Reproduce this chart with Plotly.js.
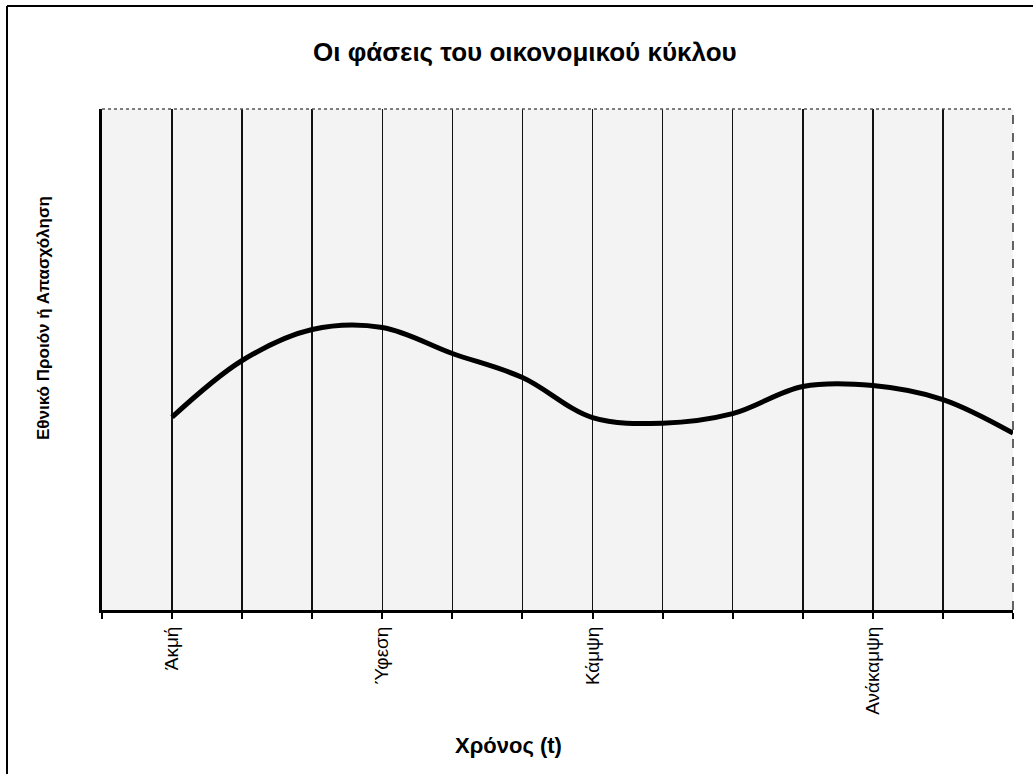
<!DOCTYPE html>
<html>
<head>
<meta charset="utf-8">
<script src="https://cdn.plot.ly/plotly-3.0.1.min.js"></script>
<style>html,body{margin:0;padding:0;background:#fff;}#chart{width:1033px;height:774px;}</style>
</head>
<body>
<div id="chart"></div>
<script>
// Category positions (0..13) and the phase labels shown under some of them
const categories = [0, 1, 2, 3, 4, 5, 6, 7, 8, 9, 10, 11, 12, 13];
const tickLabels = ["", "Άκμή", "", "", "Ύφεση", "", "", "Κάμψη", "", "", "", "Ανάκαμψη", "", ""];
// Line series (arbitrary units)
const seriesX = [1, 2, 3, 4, 5, 6, 7, 8, 9, 10, 11, 12, 13];
const seriesY = [38.5, 49.8, 56.0, 56.4, 51.2, 46.4, 38.4, 37.3, 39.2, 44.6, 44.8, 42.0, 35.3];

const L = 102, R = 1013, T = 109, B = 610, W = 1033, H = 774;
const px = x => (x - L) / (R - L);
const py = y => (B - y) / (B - T);

const trace = {
  x: seriesX, y: seriesY, type: 'scatter', mode: 'lines',
  line: {color: '#000', width: 5, shape: 'spline', smoothing: 1},
  hoverinfo: 'skip'
};

const layout = {
  width: W, height: H,
  margin: {l: L, r: W - R, t: T, b: H - B},
  paper_bgcolor: '#fff',
  plot_bgcolor: '#f3f3f3',
  showlegend: false,
  font: {family: 'Liberation Sans, Arial, sans-serif', color: '#000'},
  xaxis: {
    range: [0, 13], fixedrange: true,
    tickmode: 'array', tickvals: categories, ticktext: tickLabels,
    tickangle: -90, ticks: 'outside', ticklen: 6, tickwidth: 2, tickcolor: '#000',
    tickfont: {size: 19, family: 'Liberation Sans, Arial, sans-serif', color: '#000'},
    showgrid: true, gridcolor: '#111', gridwidth: 1.5,
    showline: true, linecolor: '#000', linewidth: 3,
    zeroline: false
  },
  yaxis: {
    range: [0, 100], fixedrange: true,
    showticklabels: false, ticks: '', showgrid: false,
    showline: true, linecolor: '#000', linewidth: 3,
    zeroline: false
  },
  shapes: [
    {type: 'line', xref: 'paper', yref: 'paper', x0: 0, x1: 1, y0: 1, y1: 1, line: {color: '#555', width: 1.5, dash: 'dot'}},
    {type: 'line', xref: 'paper', yref: 'paper', x0: 1, x1: 1, y0: 0, y1: 1, line: {color: '#333', width: 1.5, dash: 'dash'}},
    {type: 'line', xref: 'paper', yref: 'paper', x0: px(7), x1: px(7), y0: py(6), y1: py(774), line: {color: '#000', width: 2}},
    {type: 'line', xref: 'paper', yref: 'paper', x0: px(7), x1: px(1033), y0: py(6), y1: py(6), line: {color: '#000', width: 2}}
  ],
  annotations: [
    {text: '<b>Οι φάσεις του οικονομικού κύκλου</b>', xref: 'paper', yref: 'paper',
     x: px(525), y: py(52), xanchor: 'center', yanchor: 'middle', showarrow: false,
     font: {size: 26, family: 'Liberation Sans, Arial, sans-serif', color: '#000'}},
    {text: '<b>Εθνικό Προιόν ή Απασχόληση</b>', xref: 'paper', yref: 'paper',
     x: px(43), y: py(318), xanchor: 'center', yanchor: 'middle', showarrow: false, textangle: -90,
     font: {size: 17, family: 'Liberation Sans, Arial, sans-serif', color: '#000'}},
    {text: '<b>Χρόνος (t)</b>', xref: 'paper', yref: 'paper',
     x: px(508), y: py(745), xanchor: 'center', yanchor: 'middle', showarrow: false,
     font: {size: 22, family: 'Liberation Sans, Arial, sans-serif', color: '#000'}}
  ]
};

Plotly.newPlot('chart', [trace], layout, {displayModeBar: false, staticPlot: true});
</script>
</body>
</html>
